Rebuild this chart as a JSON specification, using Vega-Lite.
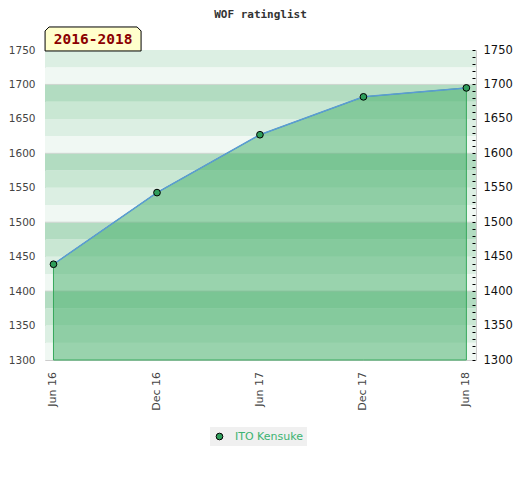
{
  "$schema": "https://vega.github.io/schema/vega-lite/v6.json",
  "width": 431,
  "height": 310,
  "autosize": {"type": "none"},
  "padding": {"left": 45, "top": 50, "right": 44, "bottom": 120},
  "background": "white",
  "title": {"text": "WOF ratinglist", "font": "DejaVu Sans Mono", "fontSize": 11, "fontWeight": "bold", "color": "#333333", "anchor": "middle", "offset": 5},
  "config": {"view": {"stroke": "#cccccc"}, "axis": {"labelFont": "DejaVu Sans"}},
  "datasets": {
    "ratings": [
      {"date": "2016-06-01", "rating": 1439, "player": "ITO Kensuke"},
      {"date": "2016-12-01", "rating": 1543, "player": "ITO Kensuke"},
      {"date": "2017-06-01", "rating": 1627, "player": "ITO Kensuke"},
      {"date": "2017-12-01", "rating": 1682, "player": "ITO Kensuke"},
      {"date": "2018-06-01", "rating": 1695, "player": "ITO Kensuke"}
    ],
    "bands": [
      {"lo": 1300, "hi": 1325, "level": 0},
      {"lo": 1325, "hi": 1350, "level": 1},
      {"lo": 1350, "hi": 1375, "level": 2},
      {"lo": 1375, "hi": 1400, "level": 3},
      {"lo": 1400, "hi": 1425, "level": 0},
      {"lo": 1425, "hi": 1450, "level": 1},
      {"lo": 1450, "hi": 1475, "level": 2},
      {"lo": 1475, "hi": 1500, "level": 3},
      {"lo": 1500, "hi": 1525, "level": 0},
      {"lo": 1525, "hi": 1550, "level": 1},
      {"lo": 1550, "hi": 1575, "level": 2},
      {"lo": 1575, "hi": 1600, "level": 3},
      {"lo": 1600, "hi": 1625, "level": 0},
      {"lo": 1625, "hi": 1650, "level": 1},
      {"lo": 1650, "hi": 1675, "level": 2},
      {"lo": 1675, "hi": 1700, "level": 3},
      {"lo": 1700, "hi": 1725, "level": 0},
      {"lo": 1725, "hi": 1750, "level": 1}
    ],
    "tag": [{"label": "2016-2018"}]
  },
  "resolve": {"axis": {"y": "independent"}},
  "layer": [
    {
      "data": {"name": "bands"},
      "mark": {"type": "rect", "strokeWidth": 0},
      "encoding": {
        "y": {"field": "lo", "type": "quantitative", "scale": {"domain": [1300, 1750], "nice": false, "zero": false},
          "axis": {"orient": "left", "values": [1300, 1350, 1400, 1450, 1500, 1550, 1600, 1650, 1700, 1750], "format": "d", "ticks": false, "domain": false, "grid": false, "labelColor": "#444444", "labelFontSize": 10.5, "labelPadding": 10, "title": null}},
        "y2": {"field": "hi"},
        "color": {"field": "level", "type": "ordinal", "scale": {"domain": [0, 1, 2, 3], "range": ["#f0f8f3", "#dcefe3", "#c9e7d3", "#b2dcc1"]}, "legend": null}
      }
    },
    {
      "data": {"name": "bands"},
      "transform": [{"filter": "datum.level == 0 && datum.lo > 1300"}],
      "mark": {"type": "rule", "color": "#cdd5cf", "strokeWidth": 1},
      "encoding": {
        "y": {"field": "lo", "type": "quantitative", "scale": {"domain": [1300, 1750], "nice": false, "zero": false}, "axis": null}
      }
    },
    {
      "data": {"name": "ratings"},
      "mark": {"type": "area", "fill": "#42ad68", "fillOpacity": 0.5, "stroke": "#37a85c", "strokeWidth": 1},
      "encoding": {
        "x": {"field": "date", "type": "temporal", "scale": {"type": "utc", "domain": [1463443200000, 1529280000000]}, "axis": null},
        "y": {"field": "rating", "type": "quantitative", "scale": {"domain": [1300, 1750], "nice": false, "zero": false},
          "axis": {"orient": "right", "zindex": 1, "offset": -4, "values": [1300, 1310, 1320, 1330, 1340, 1350, 1360, 1370, 1380, 1390, 1400, 1410, 1420, 1430, 1440, 1450, 1460, 1470, 1480, 1490, 1500, 1510, 1520, 1530, 1540, 1550, 1560, 1570, 1580, 1590, 1600, 1610, 1620, 1630, 1640, 1650, 1660, 1670, 1680, 1690, 1700, 1710, 1720, 1730, 1740, 1750],
            "labelExpr": "datum.value % 50 === 0 ? datum.label : ''", "format": "d", "tickSize": 3, "tickColor": "black", "labelColor": "#111111", "labelFontSize": 11.5, "labelPadding": 8, "domain": false, "grid": false, "labelOverlap": false, "title": null}},
        "y2": {"datum": 1300}
      }
    },
    {
      "data": {"name": "ratings"},
      "mark": {"type": "line", "color": "#5b9bd5", "strokeWidth": 1.5},
      "encoding": {
        "x": {"field": "date", "type": "temporal", "scale": {"type": "utc", "domain": [1463443200000, 1529280000000]}, "axis": null},
        "y": {"field": "rating", "type": "quantitative", "axis": null}
      }
    },
    {
      "data": {"name": "ratings"},
      "mark": {"type": "point", "filled": true, "stroke": "black", "strokeWidth": 1, "size": 45, "opacity": 1},
      "encoding": {
        "x": {"field": "date", "type": "temporal", "axis": null},
        "y": {"field": "rating", "type": "quantitative", "axis": null},
        "fill": {"field": "player", "type": "nominal", "scale": {"domain": ["ITO Kensuke"], "range": ["#2f9e5b"]},
          "legend": {"orient": "none", "legendX": 165, "legendY": 377, "title": null, "fillColor": "#f0f0f0", "padding": 4, "labelColor": "#3cb371", "labelFont": "DejaVu Sans", "labelFontSize": 11, "labelOffset": 10, "symbolType": "circle", "symbolSize": 45, "symbolStrokeColor": "black", "symbolStrokeWidth": 1, "symbolFillColor": "#2f9e5b"}}
      }
    },
    {
      "data": {"name": "ratings"},
      "mark": {"type": "text", "font": "DejaVu Sans", "fontSize": 11, "color": "#444444", "angle": 270, "align": "right", "baseline": "middle", "dx": -12},
      "encoding": {
        "x": {"field": "date", "type": "temporal", "axis": null},
        "y": {"datum": 1300, "type": "quantitative", "axis": null},
        "text": {"field": "date", "type": "temporal", "timeUnit": "utcyearmonth", "format": "%b %y"}
      }
    },
    {
      "data": {"name": "tag"},
      "mark": {"type": "point", "shape": "M-4,1L-4,-0.667L-3.667,-1L3.667,-1L4,-0.667L4,1Z", "filled": true, "fill": "#ffffcc", "stroke": "black", "strokeWidth": 1, "size": 576, "opacity": 1},
      "encoding": {
        "x": {"datum": 1470787200000, "type": "temporal", "axis": null},
        "y": {"datum": 1766, "type": "quantitative", "axis": null}
      }
    },
    {
      "data": {"name": "tag"},
      "mark": {"type": "text", "font": "DejaVu Sans Mono", "fontSize": 14.5, "fontWeight": "bold", "color": "#8b0000", "align": "center", "baseline": "middle", "dy": 1},
      "encoding": {
        "x": {"datum": 1470787200000, "type": "temporal", "axis": null},
        "y": {"datum": 1766, "type": "quantitative", "axis": null},
        "text": {"field": "label"}
      }
    }
  ]
}
